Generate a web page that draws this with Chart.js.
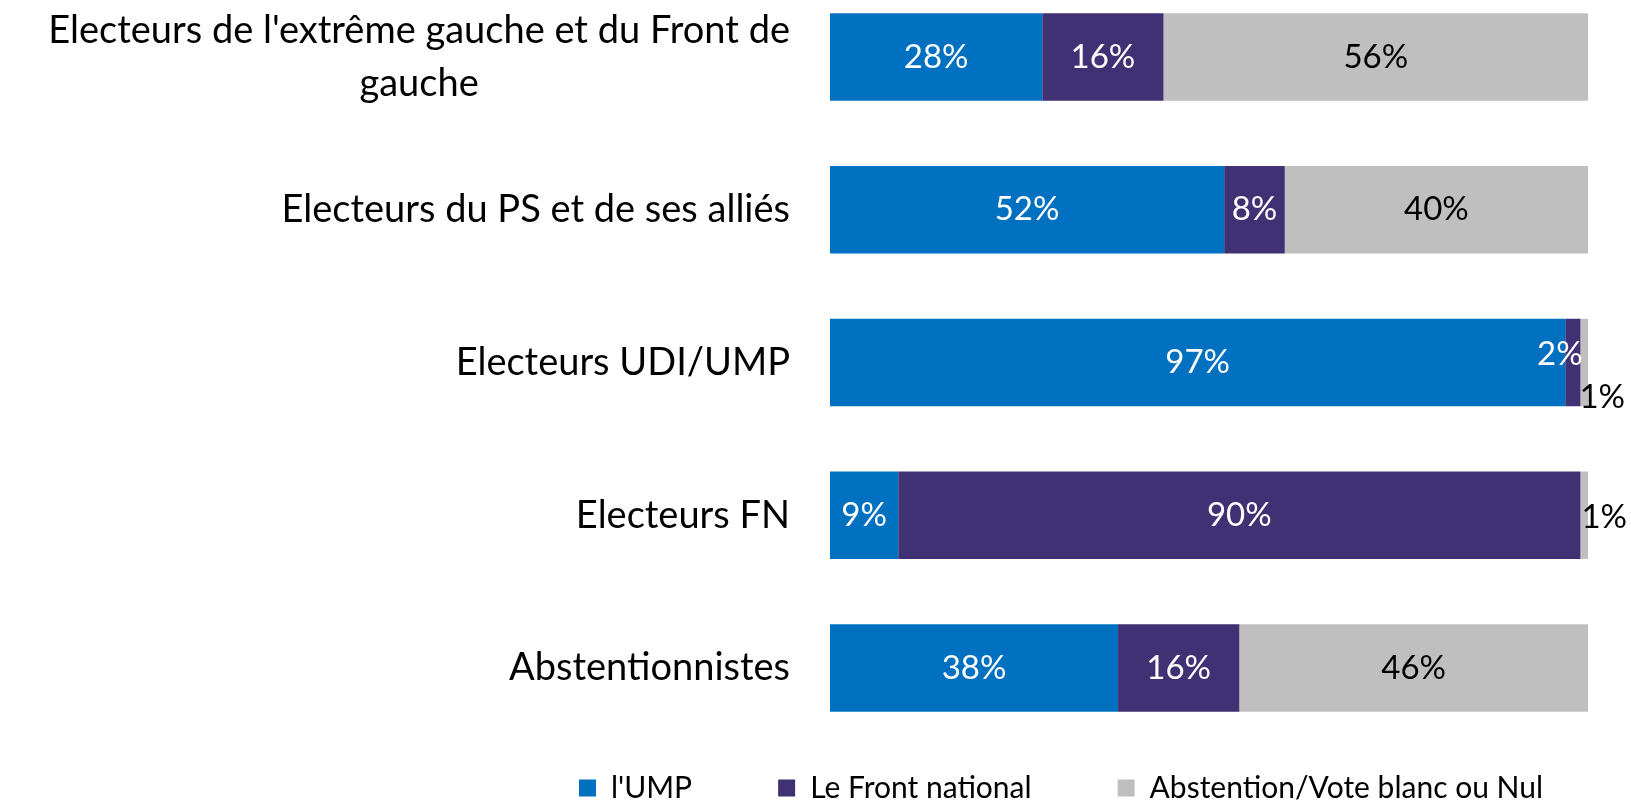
<!DOCTYPE html>
<html>
<head>
<meta charset="utf-8">
<script src="https://cdn.jsdelivr.net/npm/chart.js@4.4.1/dist/chart.umd.min.js"></script>
<style>
  html, body { margin: 0; padding: 0; background: #fff; }
  canvas { display: block; }
</style>
</head>
<body>
<canvas id="barChart" width="1631" height="800"></canvas>
<script>
const categories = [
  ["Electeurs de l'extrême gauche et du Front de", "gauche"],
  "Electeurs du PS et de ses alliés",
  "Electeurs UDI/UMP",
  "Electeurs FN",
  "Abstentionnistes"
];
const seriesNames = ["l'UMP", "Le Front national", "Abstention/Vote blanc ou Nul"];
const umpValues = [28, 52, 97, 9, 38];
const fnValues = [16, 8, 2, 90, 16];
const abstentionValues = [56, 40, 1, 1, 46];

const seriesColors = ['#0070C0', '#403174', '#BFBFBF'];
const labelColors = ['#FFFFFF', '#FFFFFF', '#000000'];
const fontFamily = 'Lato, "Open Sans", sans-serif';
const tickSize = 38;
const valueSize = 33;
const legendOffset = 493;

// small labels that do not fit in their bar get moved a bit, like Excel does
const labelNudges = { '1:2': [-13, -8], '2:2': [18, 35], '2:3': [20, 2] };

// pad the short lines of a multi line label so the lines look centred
function centerLines(lines, font) {
  const ctx = document.createElement('canvas').getContext('2d');
  ctx.font = font;
  const widest = Math.max(...lines.map(l => ctx.measureText(l).width));
  const space = ctx.measureText(' ').width;
  return lines.map(l => l + ' '.repeat(Math.round((widest - ctx.measureText(l).width) / 2 / space)));
}

const yLabels = categories.map(c => Array.isArray(c) ? centerLines(c, tickSize + 'px ' + fontFamily) : c);

const barLabels = {
  id: 'barLabels',
  afterDatasetsDraw(chart) {
    const ctx = chart.ctx;
    ctx.save();
    ctx.font = valueSize + 'px ' + fontFamily;
    ctx.textAlign = 'center';
    ctx.textBaseline = 'middle';
    chart.data.datasets.forEach((ds, di) => {
      chart.getDatasetMeta(di).data.forEach((bar, i) => {
        const nudge = labelNudges[di + ':' + i] || [0, 0];
        ctx.fillStyle = labelColors[di];
        ctx.fillText(ds.data[i] + '%', (bar.x + bar.base) / 2 + nudge[0], bar.y + nudge[1]);
      });
    });
    ctx.restore();
  }
};

// legend sits low and under the bars, not under the whole canvas
const legendSpace = {
  id: 'legendSpace',
  beforeInit(chart) {
    const fit = chart.legend.fit;
    chart.legend.fit = function () {
      fit.call(this);
      this.height = 113;
    };
  },
  afterLayout(chart) {
    chart.legend.left += legendOffset;
    chart.legend.right += legendOffset;
  }
};

const values = [umpValues, fnValues, abstentionValues];
const datasets = seriesNames.map((name, i) => ({
  label: name,
  data: values[i],
  backgroundColor: seriesColors[i],
  borderColor: seriesColors[i],
  borderWidth: 0,
  clip: false,
  categoryPercentage: 1,
  barPercentage: 0.572
}));

const barCtx = document.getElementById('barChart').getContext('2d');
const barChart = new Chart(barCtx, {
  type: 'bar',
  data: {
    labels: yLabels,
    datasets: datasets
  },
  plugins: [barLabels, legendSpace],
  options: {
    indexAxis: 'y',
    responsive: false,
    animation: false,
    layout: {
      padding: { left: 0, right: 43, top: 57, bottom: 0 }
    },
    scales: {
      x: {
        stacked: true,
        min: 0,
        max: 100,
        grid: { display: false },
        border: { display: false },
        ticks: { display: false },
        afterFit(scale) { scale.height = 19; }
      },
      y: {
        stacked: true,
        offset: false,
        grid: { display: false },
        border: { display: false },
        ticks: {
          autoSkip: false,
          color: '#000',
          padding: 32,
          font: { family: fontFamily, size: tickSize, lineHeight: 1.4 }
        },
        afterFit(scale) {
          scale.width = 830;
          scale.paddingTop = 0;
          scale.paddingBottom = 0;
        }
      }
    },
    plugins: {
      tooltip: { enabled: false },
      legend: {
        position: 'bottom',
        align: 'start',
        labels: {
          color: '#000',
          boxWidth: 17,
          boxHeight: 17,
          padding: 86,
          font: { family: fontFamily, size: 30 }
        }
      }
    }
  }
});
</script>
</body>
</html>
